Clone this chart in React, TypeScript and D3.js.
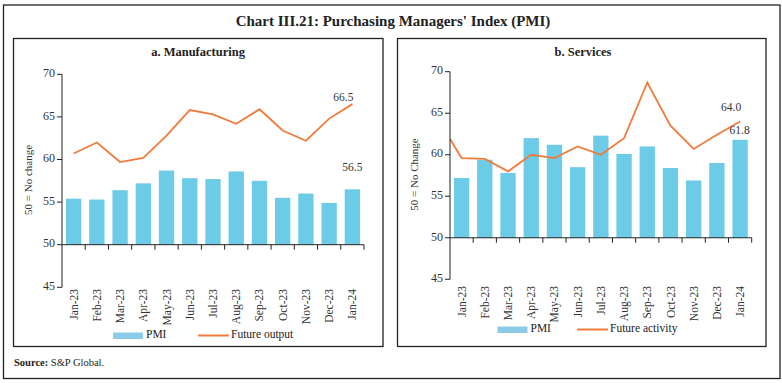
import React from "react";
import * as d3 from "d3";

const months = ["Jan-23","Feb-23","Mar-23","Apr-23","May-23","Jun-23","Jul-23","Aug-23","Sep-23","Oct-23","Nov-23","Dec-23","Jan-24"];
const mfgPMI = [55.4,55.3,56.4,57.2,58.7,57.8,57.7,58.6,57.5,55.5,56.0,54.9,56.5];
const mfgFuture = [60.7,62.0,59.7,60.2,62.8,65.8,65.3,64.2,65.9,63.4,62.2,64.8,66.5];
const svcPMI = [57.2,59.4,57.8,62.0,61.2,58.5,62.3,60.1,61.0,58.4,56.9,59.0,61.8];
const svcFuture = [59.6,59.5,58.0,60.0,59.6,61.0,60.0,62.0,68.7,63.5,60.7,62.4,64.0];
const svcFutureLead = 61.9; // line enters from the axis
const yTicks = [45,50,55,60,65,70];

const BAR = "#6ccbe6";
const LEGBAR = "#8ccbe8";
const LINE = "#f07b3c";
const FONT = "'Liberation Serif', 'DejaVu Serif', serif";

type PanelProps = {
  title: string; yLabel: string; legendLine: string;
  box: [number, number, number, number];
  x0: number; x1: number; yBottom: number; yTop: number;
  bars: number[]; line: number[]; lead?: number;
  labelY: number; legendY: number; legendX: number; legendLineX: number;
  titleX: number; yLabelX: number; yLabelY: number;
  barLabelOff: [number, number]; lineLabelOff: [number, number];
};

function Panel(p: PanelProps) {
  const x = d3.scaleBand<string>().domain(months).range([p.x0, p.x1]).padding(0);
  const y = d3.scaleLinear().domain([45, 70]).range([p.yBottom, p.yTop]);
  const bw = x.bandwidth();
  const barW = bw * 0.66;
  const cx = (m: string) => (x(m) as number) + bw / 2;
  const pts: [number, number][] = p.line.map((v, i) => [cx(months[i]), y(v)]);
  if (p.lead !== undefined) pts.unshift([p.x0, y(p.lead)]);
  const path = d3.line()(pts) as string;
  const last = months.length - 1;
  const y50 = y(50);
  const [bx, by, bw2, bh] = p.box;
  return (
    <g>
      <rect x={bx} y={by} width={bw2} height={bh} fill="none" stroke="#222" strokeWidth={1.3} />
      <text x={p.titleX} y={by + 15} textAnchor="middle" dominantBaseline="middle" fontSize={12.5} fontWeight="bold" fill="#222">{p.title}</text>
      {months.map((m, i) => (
        <rect key={m} x={cx(m) - barW / 2} y={y(p.bars[i])} width={barW} height={y50 - y(p.bars[i])} fill={BAR} />
      ))}
      <path d={path} fill="none" stroke={LINE} strokeWidth={1.8} />
      <line x1={p.x0} x2={p.x0} y1={y(45)} y2={y(70)} stroke="#222" strokeWidth={1} />
      {yTicks.map(t => (
        <g key={t}>
          <line x1={p.x0 - 5} x2={p.x0} y1={y(t)} y2={y(t)} stroke="#222" />
          <text x={p.x0 - 7} y={y(t)} textAnchor="end" dominantBaseline="middle" fontSize={12} fill="#333">{t}</text>
        </g>
      ))}
      <line x1={p.x0} x2={p.x1} y1={y50} y2={y50} stroke="#222" strokeWidth={1} />
      {months.map((m, i) => (
        <line key={"t" + m} x1={(x(m) as number) + bw} x2={(x(m) as number) + bw} y1={y50} y2={y50 + 5} stroke="#222" />
      ))}
      {months.map(m => (
        <text key={"l" + m} transform={`translate(${cx(m)},${p.labelY}) rotate(-90)`} textAnchor="end" dy="0.35em" fontSize={11.5} fill="#333">{m}</text>
      ))}
      <text transform={`translate(${p.yLabelX},${p.yLabelY}) rotate(-90)`} textAnchor="middle" dominantBaseline="middle" fontSize={11} fill="#333">{p.yLabel}</text>
      <text x={cx(months[last]) + p.lineLabelOff[0]} y={y(p.line[last]) + p.lineLabelOff[1]} textAnchor="middle" dominantBaseline="middle" fontSize={11.5} fill="#333">{p.line[last].toFixed(1)}</text>
      <text x={cx(months[last]) + p.barLabelOff[0]} y={y(p.bars[last]) + p.barLabelOff[1]} textAnchor="middle" dominantBaseline="middle" fontSize={11.5} fill="#333">{p.bars[last].toFixed(1)}</text>
      <rect x={p.legendX} y={p.legendY - 3} width={30} height={6.5} fill={LEGBAR} />
      <text x={p.legendX + 33} y={p.legendY} dominantBaseline="middle" fontSize={11.5} fill="#222">PMI</text>
      <line x1={p.legendLineX} x2={p.legendLineX + 31} y1={p.legendY} y2={p.legendY} stroke={LINE} strokeWidth={2} />
      <text x={p.legendLineX + 33} y={p.legendY} dominantBaseline="middle" fontSize={11.5} fill="#222">{p.legendLine}</text>
    </g>
  );
}

export default function App() {
  return (
    <svg width={782} height={383} style={{ position: "absolute", left: 0, top: 0, background: "#fff" }} fontFamily={FONT}>
      <rect x={0} y={0} width={782} height={383} fill="#fff" />
      <rect x={3.5} y={5} width={776.5} height={373.5} fill="none" stroke="#222" strokeWidth={1.3} />
      <text x={393} y={23} textAnchor="middle" dominantBaseline="middle" fontSize={15} fontWeight="bold" fill="#222">Chart III.21: Purchasing Managers' Index (PMI)</text>
      <Panel title="a. Manufacturing" yLabel="50 = No change" legendLine="Future output"
        box={[13.5, 38.5, 369.5, 308]} x0={62} x1={364} yBottom={287.3} yTop={74.3}
        bars={mfgPMI} line={mfgFuture}
        labelY={289} legendY={335.5} legendX={113} legendLineX={198}
        titleX={198} yLabelX={29} yLabelY={180}
        barLabelOff={[0, -21]} lineLabelOff={[-9, -6]} />
      <Panel title="b. Services" yLabel="50 = No Change" legendLine="Future activity"
        box={[397.5, 38.5, 368.5, 308]} x0={450} x1={751.7} yBottom={279.3} yTop={71.7}
        bars={svcPMI} line={svcFuture} lead={svcFutureLead}
        labelY={286} legendY={329.5} legendX={497.5} legendLineX={577}
        titleX={583} yLabelX={415} yLabelY={174.5}
        barLabelOff={[-0.5, -8]} lineLabelOff={[-9, -13]} />
      <text x={14} y={364} dominantBaseline="middle" fontSize={10.5} fill="#222"><tspan fontWeight="bold">Source:</tspan> S&amp;P Global.</text>
    </svg>
  );
}
